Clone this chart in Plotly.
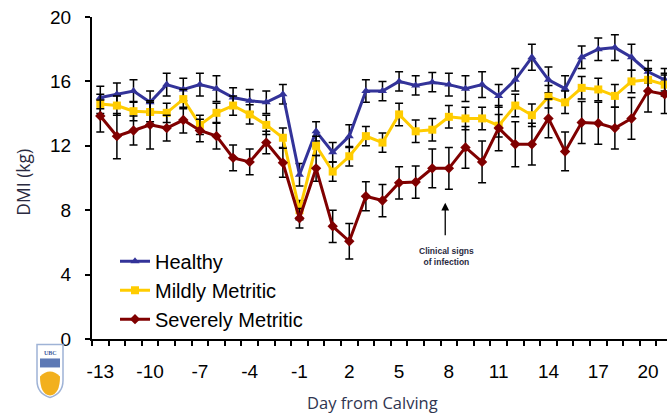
import plotly.graph_objects as go

days = list(range(-13, 22))

healthy = [15.0, 15.2, 15.4, 14.7, 15.8, 15.5, 15.8, 15.55, 15.0, 14.8, 14.7, 15.2,
           10.2, 12.9, 11.6, 12.6, 15.4, 15.4, 16.0, 15.75, 15.95, 15.8, 15.55, 15.8,
           15.1, 16.1, 17.5, 16.1, 15.55, 17.5, 18.0, 18.1, 17.5, 16.6, 16.1]
healthy_err = [0.7, 0.7, 0.7, 0.7, 0.7, 0.7, 0.7, 0.8, 0.6, 0.7, 0.7, 0.6,
               0.7, 0.6, 0.6, 0.7, 0.7, 0.6, 0.6, 0.6, 0.6, 0.7, 0.8, 0.8,
               0.7, 0.7, 0.8, 0.8, 0.8, 0.7, 0.7, 0.8, 0.8, 0.7, 0.7]

mildly = [14.6, 14.5, 14.15, 14.1, 14.05, 14.9, 13.3, 14.05, 14.5, 13.95, 13.3, 12.5,
          8.0, 12.0, 10.4, 11.35, 12.6, 12.2, 13.95, 12.9, 13.0, 13.8, 13.7, 13.7,
          13.25, 14.5, 13.9, 15.05, 14.7, 15.6, 15.5, 15.1, 16.0, 16.1, 15.8]
mildly_err = [0.6, 0.6, 0.6, 0.6, 0.6, 0.6, 0.6, 0.6, 0.6, 0.6, 0.6, 0.6,
              0.6, 0.6, 0.6, 0.6, 0.6, 0.6, 0.7, 0.7, 0.7, 0.7, 0.7, 0.7,
              0.7, 0.7, 0.7, 0.7, 0.7, 0.7, 0.7, 0.7, 0.7, 0.7, 0.7]

severely = [13.85, 12.6, 12.95, 13.3, 13.1, 13.6, 12.95, 12.6, 11.25, 11.0, 12.2, 10.95,
            7.5, 10.6, 7.0, 6.07, 8.87, 8.6, 9.7, 9.75, 10.6, 10.6, 11.9, 11.0,
            13.1, 12.1, 12.1, 13.7, 11.65, 13.45, 13.4, 13.1, 13.7, 15.4, 15.2]
severely_err = [1.0, 1.4, 0.9, 1.5, 0.8, 0.8, 0.7, 0.8, 0.8, 0.8, 0.7, 0.9,
                0.6, 0.8, 1.0, 1.1, 0.9, 1.0, 1.0, 1.0, 1.2, 1.3, 1.3, 1.3,
                1.4, 1.4, 1.3, 1.2, 1.2, 1.3, 1.3, 1.3, 1.3, 1.3, 1.2]

series_names = ["Healthy", "Mildly Metritic", "Severely Metritic"]
colors = ["#333399", "#FFCC00", "#800000"]
symbols = ["triangle-up", "square", "diamond"]

x_ticks = list(range(-13, 21, 3))
x_ticktext = [str(v) for v in x_ticks]  # plain hyphen minus, as in the reference
y_ticks = [0, 4, 8, 12, 16, 20]

fig = go.Figure()
for name, vals, errs, col, sym in zip(series_names, [healthy, mildly, severely],
                                       [healthy_err, mildly_err, severely_err],
                                       colors, symbols):
    fig.add_trace(go.Scatter(
        x=days, y=vals, name=name, mode="lines+markers",
        line=dict(color=col, width=3),
        marker=dict(symbol=sym, size=8, color=col),
        error_y=dict(type="data", array=errs, visible=True, color="black",
                     thickness=1.5, width=4),
    ))

L, T, W, H = 92, 17, 575, 322.5


def px(xp):
    return (xp - L) / W


def py(yp):
    return (T + H - yp) / H


shapes = []
# UBC logo approximation (decoration)
shapes.append(dict(type="path", xref="paper", yref="paper",
                   path=f"M {px(37)},{py(345)} L {px(63)},{py(345)} L {px(63)},{py(381)} "
                        f"Q {px(63)},{py(394)} {px(50)},{py(398)} "
                        f"Q {px(37)},{py(394)} {px(37)},{py(381)} Z",
                   fillcolor="white", line=dict(color="#9fb3d6", width=1.5)))
shapes.append(dict(type="rect", xref="paper", yref="paper",
                   x0=px(40), x1=px(60), y0=py(359), y1=py(368),
                   fillcolor="#5d79b5", line=dict(width=0)))
shapes.append(dict(type="path", xref="paper", yref="paper",
                   path=f"M {px(40)},{py(377)} Q {px(40)},{py(395)} {px(50)},{py(396)} "
                        f"Q {px(60)},{py(395)} {px(60)},{py(377)} "
                        f"Q {px(50)},{py(367)} {px(40)},{py(377)} Z",
                   fillcolor="#F2B01E", line=dict(width=0)))

annotations = [
    dict(xref="paper", yref="paper", x=px(50), y=py(354), xanchor="center", yanchor="middle",
         text="<b>UBC</b>", showarrow=False,
         font=dict(size=6, color="#3a5a9c", family="Liberation Serif")),
    dict(x=7.78, y=8.47, ax=7.78, ay=6.35, axref="x", ayref="y", xref="x", yref="y",
         showarrow=True, arrowhead=2, arrowsize=1.2, arrowwidth=1.3, arrowcolor="black", text=""),
    dict(x=7.85, y=5.1, xref="x", yref="y", showarrow=False, xanchor="center", yanchor="middle",
         text="<b>Clinical signs</b><br><b>of infection</b>",
         font=dict(size=8.5, color="#2a2a40", family="Liberation Sans")),
    dict(xref="paper", yref="paper", x=px(372), y=py(403), xanchor="center", yanchor="middle",
         text="Day from Calving", showarrow=False,
         font=dict(size=16.5, color="#2f3550", family="Open Sans")),
    dict(xref="paper", yref="paper", x=px(23), y=py(183), xanchor="center", yanchor="middle",
         text="DMI (kg)", textangle=-90, showarrow=False,
         font=dict(size=17.5, color="#2a2a40", family="Open Sans")),
]

fig.update_layout(
    width=667, height=413,
    margin=dict(l=L, r=0, t=T, b=413 - T - H),
    plot_bgcolor="white", paper_bgcolor="white",
    font=dict(family="Liberation Sans", size=19, color="black"),
    showlegend=True,
    legend=dict(x=px(115), y=py(242), xanchor="left", yanchor="top",
                bgcolor="rgba(0,0,0,0)", font=dict(size=20), itemwidth=30,
                tracegroupgap=0),
    shapes=shapes,
    annotations=annotations,
)

fig.update_xaxes(range=[-13.5, 21.14], tickvals=x_ticks, ticktext=x_ticktext, ticks="",
                 showgrid=False, zeroline=False, showline=True, linecolor="black",
                 linewidth=2, ticklabelstandoff=14,
                 minor=dict(tick0=-13.5, dtick=1, ticks="outside", ticklen=5,
                            tickcolor="black", tickwidth=1.5, showgrid=False))
fig.update_yaxes(range=[0, 20], tickvals=y_ticks, ticks="outside", ticklen=5,
                 tickcolor="black", tickwidth=1.5, showgrid=False, zeroline=False,
                 showline=True, linecolor="black", linewidth=2, ticklabelstandoff=10)

fig.write_html("out.html", config={"displayModeBar": False},
               post_script="document.body.style.margin='0';document.body.style.overflow='hidden';")
